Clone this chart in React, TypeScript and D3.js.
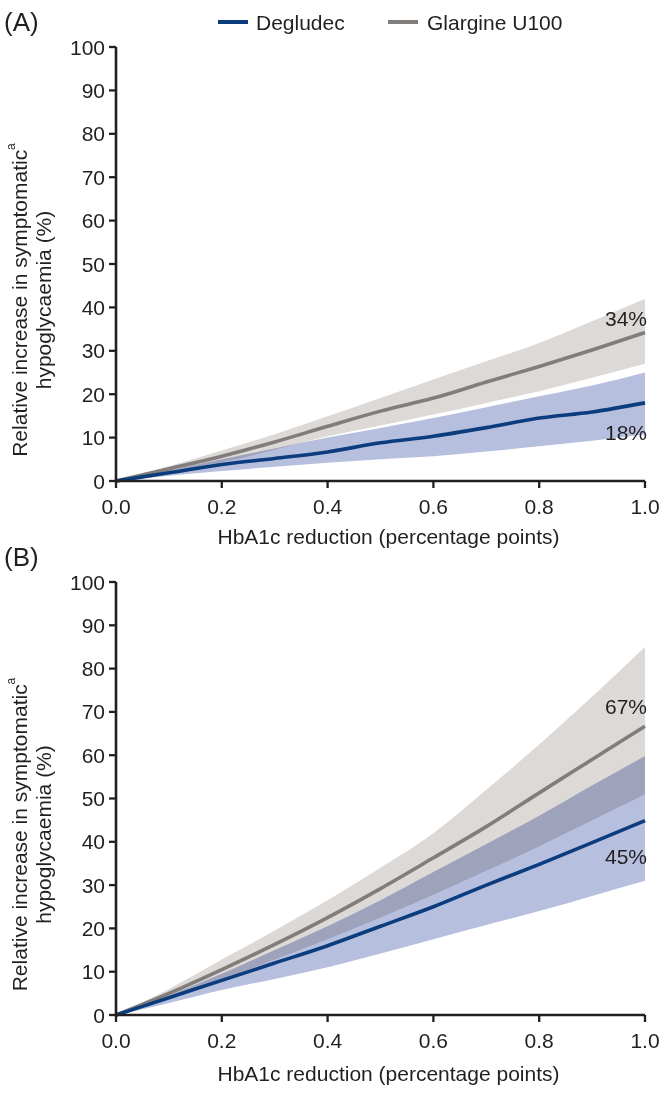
import React from "react";
import * as d3 from "d3";

// ---- data ----
const xValues = [0, 0.1, 0.2, 0.3, 0.4, 0.5, 0.6, 0.7, 0.8, 0.9, 1.0];

// Panel A
const aGlargine = [0, 2.8, 5.7, 9.0, 12.6, 16.1, 19.1, 22.8, 26.4, 30.2, 34.2];
const aGlargineHi = [0, 3.4, 7.0, 10.8, 14.9, 19.1, 23.4, 27.6, 31.8, 36.8, 42.0];
const aGlargineLo = [0, 2.1, 4.3, 7.2, 10.3, 12.8, 15.3, 18.0, 20.7, 23.8, 27.0];
const aDegludec = [0, 1.9, 3.8, 5.2, 6.7, 8.8, 10.3, 12.3, 14.5, 15.9, 18.0];
const aDegludecHi = [0, 2.5, 5.0, 7.5, 10.0, 12.2, 14.5, 17.0, 19.5, 22.0, 25.0];
const aDegludecLo = [0, 1.2, 2.3, 3.3, 4.2, 5.0, 5.7, 6.8, 8.0, 9.3, 10.7];

// Panel B
const bGlargine = [0, 5.0, 10.5, 16.3, 22.5, 29.2, 36.3, 43.5, 51.3, 59.0, 66.7];
const bGlargineHi = [0, 6.0, 12.8, 19.5, 26.5, 34.0, 42.0, 52.0, 62.5, 73.5, 85.0];
const bGlargineLo = [0, 3.8, 8.2, 12.8, 17.5, 22.5, 27.8, 33.3, 39.0, 45.0, 50.9];
const bDegludec = [0, 4.0, 8.0, 12.0, 16.0, 20.5, 25.0, 30.0, 34.8, 39.8, 44.9];
const bDegludecHi = [0, 4.5, 9.5, 15.0, 20.5, 26.5, 33.0, 39.5, 46.0, 53.0, 59.8];
const bDegludecLo = [0, 2.8, 5.8, 8.3, 11.0, 14.2, 17.5, 20.8, 24.0, 27.5, 31.0];

const xTicks = [0, 0.2, 0.4, 0.6, 0.8, 1.0];
const yTicks = [0, 10, 20, 30, 40, 50, 60, 70, 80, 90, 100];
const seriesNames = ["Degludec", "Glargine U100"];
const panelLabels = ["(A)", "(B)"];
const endLabelsA = ["18%", "34%"];
const endLabelsB = ["45%", "67%"];

// ---- style ----
const BLUE = "#0b3d7e";
const BLUE_BAND = "#b7bfdf";
const GREY = "#817d7a";
const GREY_BAND = "#dcd9d6";
const INK = "#231f20";
const FONT = "'Liberation Sans', Arial, Helvetica, sans-serif";

type PanelProps = {
  top: number;
  bottom: number;
  label: string;
  glar: number[];
  glarHi: number[];
  glarLo: number[];
  deg: number[];
  degHi: number[];
  degLo: number[];
  endLabels: string[];
  degLabelDy: number;
  glarLabelDy: number;
  titleDy: number;
};

const X0 = 116;
const X1 = 645;

function Panel(p: PanelProps) {
  const x = d3.scaleLinear().domain([0, 1]).range([X0, X1]);
  const y = d3.scaleLinear().domain([0, 100]).range([p.bottom, p.top]);
  const idx = xValues.map((_, i) => i);
  const area = (hi: number[], lo: number[]) =>
    d3
      .area<number>()
      .x((i) => x(xValues[i]))
      .y0((i) => y(lo[i]))
      .y1((i) => y(hi[i]))
      .curve(d3.curveMonotoneX)(idx) || "";
  const line = (v: number[]) =>
    d3
      .line<number>()
      .x((i) => x(xValues[i]))
      .y((i) => y(v[i]))
      .curve(d3.curveMonotoneX)(idx) || "";
  const midY = (p.top + p.bottom) / 2 + 36;
  return (
    <g>
      <text x={4} y={p.top - 25} fontSize={26} fill={INK} fontFamily={FONT} dominantBaseline="central">
        {p.label}
      </text>
      <path d={area(p.glarHi, p.glarLo)} fill={GREY_BAND} />
      <path d={area(p.degHi, p.degLo)} fill={BLUE_BAND} style={{ mixBlendMode: "multiply" }} />
      <path d={line(p.glar)} fill="none" stroke={GREY} strokeWidth={3.6} />
      <path d={line(p.deg)} fill="none" stroke={BLUE} strokeWidth={3.6} />
      {/* y axis */}
      <line x1={X0} x2={X0} y1={y(100)} y2={y(0) + 1.3} stroke={INK} strokeWidth={2.6} />
      {yTicks.map((t) => (
        <g key={t}>
          <line x1={X0 - 7} x2={X0} y1={y(t)} y2={y(t)} stroke={INK} strokeWidth={2.3} />
          <text x={X0 - 11} y={y(t)} textAnchor="end" dominantBaseline="central" fontSize={21} fill={INK} fontFamily={FONT}>
            {t}
          </text>
        </g>
      ))}
      {/* x axis */}
      <line x1={X0 - 1.3} x2={X1} y1={y(0)} y2={y(0)} stroke={INK} strokeWidth={2.6} />
      {xTicks.map((t) => (
        <g key={t}>
          <line x1={x(t)} x2={x(t)} y1={y(0)} y2={y(0) + 7} stroke={INK} strokeWidth={2.3} />
          <text x={x(t)} y={y(0) + 25} textAnchor="middle" dominantBaseline="central" fontSize={21} fill={INK} fontFamily={FONT}>
            {t.toFixed(1)}
          </text>
        </g>
      ))}
      <text x={(X0 + X1) / 2 + 8} y={y(0) + p.titleDy} textAnchor="middle" dominantBaseline="central" fontSize={21} fill={INK} fontFamily={FONT}>
        HbA1c reduction (percentage points)
      </text>
      {/* y title */}
      <g transform={`translate(19, ${midY}) rotate(-90)`}>
        <text x={0} y={0} textAnchor="middle" dominantBaseline="central" fontSize={21} fill={INK} fontFamily={FONT}>
          Relative increase in symptomatic
          <tspan fontSize={12} dy={-8}>a</tspan>
        </text>
      </g>
      <g transform={`translate(43, ${midY}) rotate(-90)`}>
        <text x={0} y={0} textAnchor="middle" dominantBaseline="central" fontSize={21} fill={INK} fontFamily={FONT}>
          hypoglycaemia (%)
        </text>
      </g>
      {/* end labels */}
      <text x={X1 + 2} y={y(p.glar[10]) + p.glarLabelDy} textAnchor="end" dominantBaseline="central" fontSize={21} fill={INK} fontFamily={FONT}>
        {p.endLabels[1]}
      </text>
      <text x={X1 + 2} y={y(p.deg[10]) + p.degLabelDy} textAnchor="end" dominantBaseline="central" fontSize={21} fill={INK} fontFamily={FONT}>
        {p.endLabels[0]}
      </text>
    </g>
  );
}

export default function App() {
  return (
    <svg
      width={661}
      height={1102}
      viewBox="0 0 661 1102"
      style={{ position: "absolute", left: 0, top: 0, display: "block", background: "#fff" }}
    >
      <rect width={661} height={1102} fill="#fff" />
      {/* legend */}
      <line x1={218} x2={248} y1={22} y2={22} stroke={BLUE} strokeWidth={4} />
      <text x={256} y={22} dominantBaseline="central" fontSize={21} fill={INK} fontFamily={FONT}>
        {seriesNames[0]}
      </text>
      <line x1={388} x2={418} y1={22} y2={22} stroke={GREY} strokeWidth={4} />
      <text x={427} y={22} dominantBaseline="central" fontSize={21} fill={INK} fontFamily={FONT}>
        {seriesNames[1]}
      </text>
      <Panel
        top={47}
        bottom={481}
        label={panelLabels[0]}
        glar={aGlargine}
        glarHi={aGlargineHi}
        glarLo={aGlargineLo}
        deg={aDegludec}
        degHi={aDegludecHi}
        degLo={aDegludecLo}
        endLabels={endLabelsA}
        glarLabelDy={-14}
        degLabelDy={30}
        titleDy={55}
      />
      <Panel
        top={582}
        bottom={1015}
        label={panelLabels[1]}
        glar={bGlargine}
        glarHi={bGlargineHi}
        glarLo={bGlargineLo}
        deg={bDegludec}
        degHi={bDegludecHi}
        degLo={bDegludecLo}
        endLabels={endLabelsB}
        glarLabelDy={-20}
        degLabelDy={36}
        titleDy={58}
      />
    </svg>
  );
}
